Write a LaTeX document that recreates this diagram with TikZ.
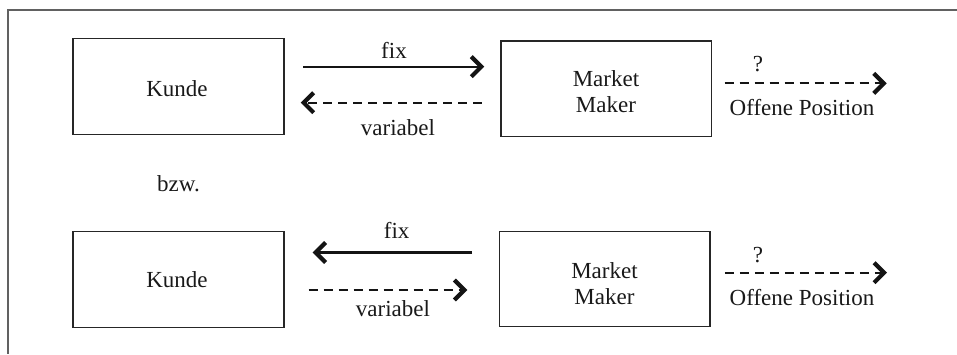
\documentclass[tikz,border=0pt]{standalone}
\usepackage{fontspec}
\setmainfont{Liberation Serif}
\usetikzlibrary{arrows.meta,calc}

\begin{document}
\begin{tikzpicture}[x=1pt,y=-1pt,
  box/.style={draw=black!85,line width=1.4pt,minimum width=211pt,minimum height=96pt,inner sep=0pt},
  txt/.style={font=\fontsize{23}{26}\selectfont,text=black!90,anchor=base,inner sep=0pt},
  flow/.style={line width=2.2pt,draw=black!92,-{Straight Barb[length=10pt,width=20pt,line width=4.2pt]}},
  guess/.style={flow,dash pattern=on 9pt off 6pt},
]
\useasboundingbox (0,0) rectangle (957,354);

% open frame (top and left edge)
\draw[draw=black!62,line width=2pt] (957,9.7) -- (7.5,9.7) -- (7.5,354);

% boxes
\node[box] (k1) at (178.5,86.3) {};
\node[box,minimum width=210.7pt,minimum height=95.7pt] (m1) at (606.3,88.8) {};
\node[box,minimum height=95.6pt] (k2) at (178.5,279.5) {};
\node[box,minimum width=210.7pt,minimum height=95pt] (m2) at (604.7,279.2) {};

% box texts (base anchor of a two-line node sits on its last line)
\node[txt] (k1t) at (177,96.7) {Kunde};
\node[txt,align=center] (m1t) at (606,112.7) {Market\\Maker};
\node[txt] (k2t) at (177,287.3) {Kunde};
\node[txt,align=center] (m2t) at (604.5,304.3) {Market\\Maker};
\node[txt] (bzw) at (178.5,191.7) {bzw.};

% row heights of the arrows
\coordinate (r1) at (0,66.7);
\coordinate (r2) at (0,102.7);
\coordinate (r3) at (0,83.3);
\coordinate (r4) at (0,252.5);
\coordinate (r5) at (0,290);
\coordinate (r6) at (0,272.7);
\coordinate (o1) at (886.7,83.3);
\coordinate (o2) at (887,272.7);

% upper case: fixed to the market maker, variable back
\draw[flow] ($(k1.east |- r1)+(18.7,0)$) -- ($(m1.west |- r1)+(-16,0)$);
\draw[guess] ($(m1.west |- r2)+(-18.3,0)$) -- ($(k1.east |- r2)+(16,0)$);
\draw[guess] ($(m1.east |- r3)+(12.3,0)$) -- (o1);

% lower case: fixed to the customer, variable to the market maker
\draw[flow] ($(m2.west |- r4)+(-26.6,0)$) -- ($(k2.east |- r4)+(28,0)$);
\draw[guess] ($(k2.east |- r5)+(24,0)$) -- ($(m2.west |- r5)+(-31.3,0)$);
\draw[guess] ($(m2.east |- r6)+(14,0)$) -- (o2);

% arrow labels
\node[txt] (fix1) at (394,58) {fix};
\node[txt] (var1) at (398,135) {variabel};
\node[txt] (q1) at (758,71.7) {?};
\node[txt] (op1) at (802,115) {Offene Position};
\node[txt] (fix2) at (396.7,238.3) {fix};
\node[txt] (var2) at (393,316) {variabel};
\node[txt] (q2) at (758,262.7) {?};
\node[txt] (op2) at (802,305) {Offene Position};
\end{tikzpicture}
\end{document}
